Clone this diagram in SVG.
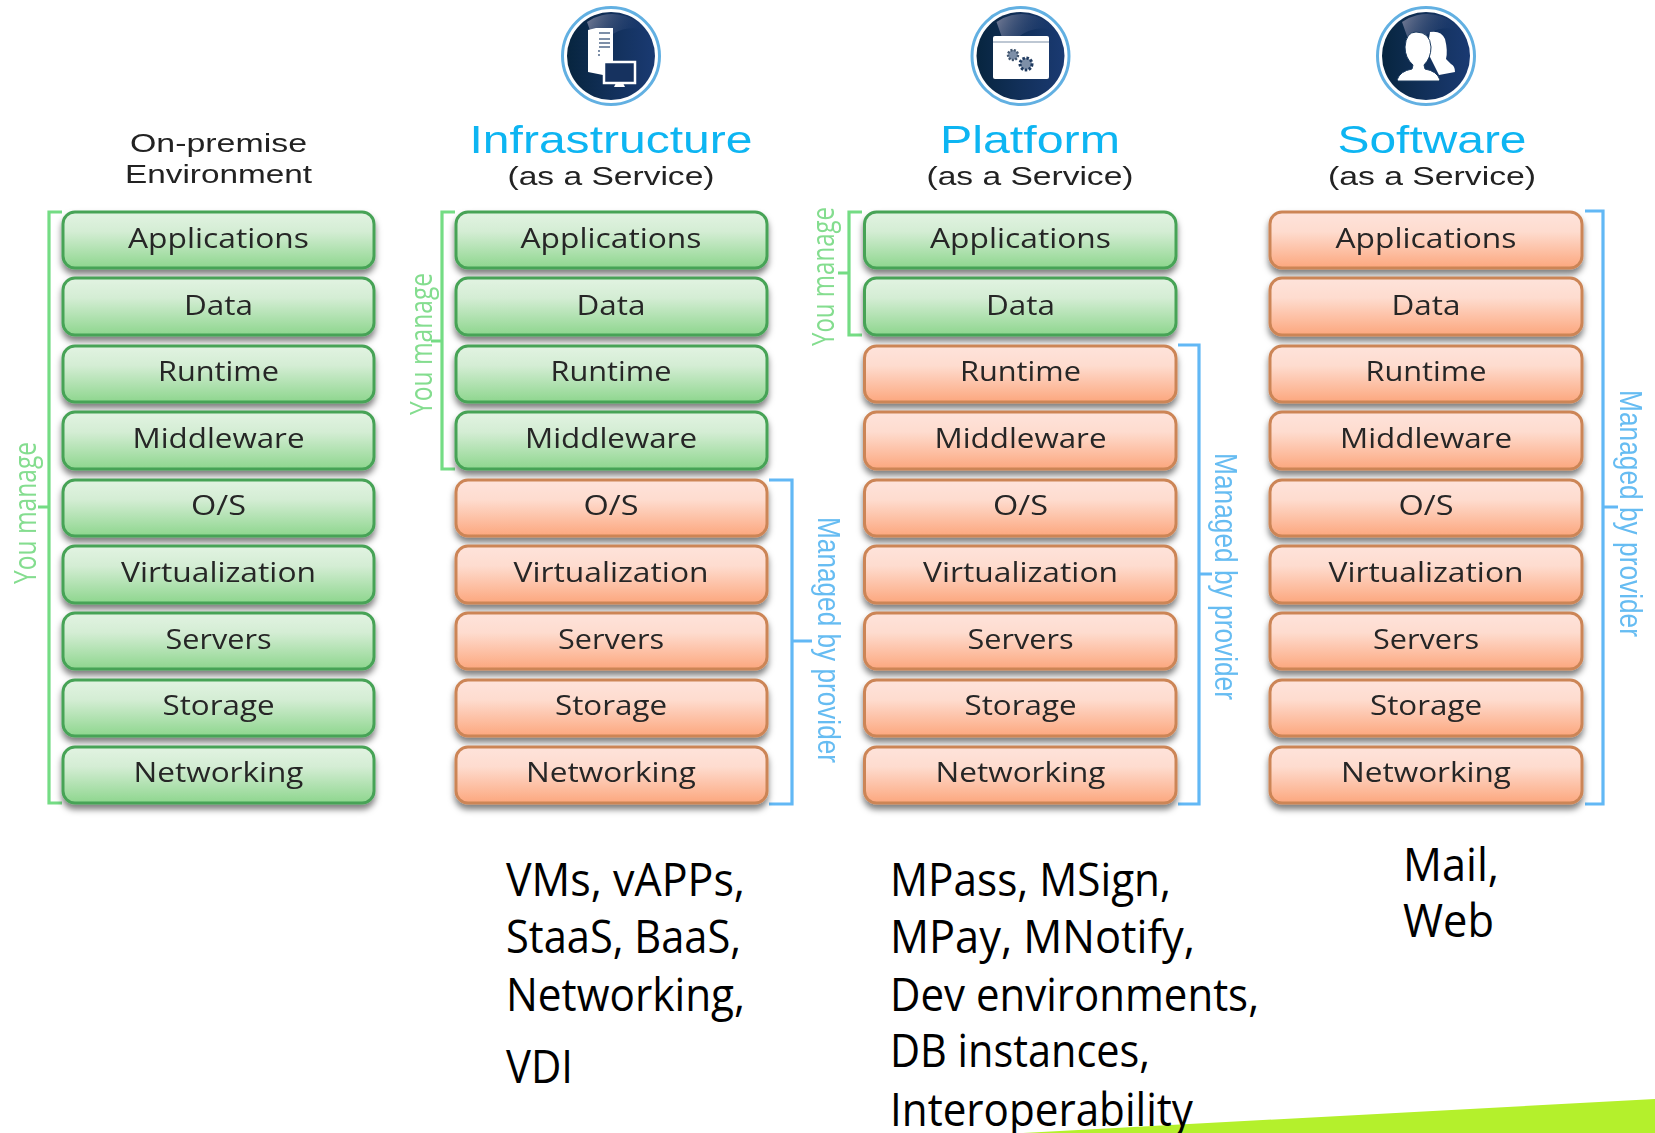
<svg xmlns="http://www.w3.org/2000/svg" xmlns:xlink="http://www.w3.org/1999/xlink" width="1655" height="1133" viewBox="0 0 1655 1133">
<defs>
<linearGradient id="gG" x1="0" y1="0" x2="0" y2="1"><stop offset="0" stop-color="#e2f3e2"/><stop offset="0.35" stop-color="#d4edd4"/><stop offset="1" stop-color="#8ed68e"/></linearGradient>
<linearGradient id="gO" x1="0" y1="0" x2="0" y2="1"><stop offset="0" stop-color="#fee3db"/><stop offset="0.35" stop-color="#fedccf"/><stop offset="1" stop-color="#fca77e"/></linearGradient>
<linearGradient id="gI" x1="0" y1="0" x2="1" y2="0"><stop offset="0" stop-color="#07253f"/><stop offset="0.5" stop-color="#12305a"/><stop offset="1" stop-color="#1a3a72"/></linearGradient>
<linearGradient id="gS" x1="0" y1="0" x2="1" y2="0.3"><stop offset="0" stop-color="#8a8da5" stop-opacity="0.85"/><stop offset="1" stop-color="#1a3a72" stop-opacity="0"/></linearGradient>
<filter id="sh" x="-5%" y="-20%" width="110%" height="150%"><feDropShadow dx="0" dy="5" stdDeviation="3" flood-color="#000" flood-opacity="0.5"/></filter>
<filter id="soft" x="-5%" y="-5%" width="110%" height="110%"><feGaussianBlur stdDeviation="0.5"/></filter>
<g id="icon"><circle r="48.5" fill="#fff" stroke="#62b0e2" stroke-width="3"/><circle r="44" fill="url(#gI)"/><path d="M-24-34 A44 44 0 0 1 35-26 Q5-34-14-6Z" fill="url(#gS)"/></g>
</defs>
<style>
text{font-family:"Open Sans","Noto Sans",sans-serif}
.box{stroke-width:3;filter:url(#sh)}
.g rect{fill:url(#gG);stroke:#47a357}
.o rect{fill:url(#gO);stroke:#cc8557}
.lab{font-size:28px;fill:#262626;text-anchor:middle;filter:url(#soft)}
.hd{font-family:"Liberation Sans",Arial,sans-serif;font-size:26px;fill:#222;text-anchor:middle;filter:url(#soft)}
.ti{font-family:"Liberation Sans",Arial,sans-serif;font-size:38px;fill:#11b5f2;text-anchor:middle;filter:url(#soft)}
.yg{font-size:31px;fill:#84dd8f;filter:url(#soft)}
.pb{font-family:"Liberation Sans",Arial,sans-serif;font-size:31px;fill:#66bcf2;filter:url(#soft)}
.br{fill:none;stroke-width:3.2}
.bg{stroke:#74dc84}
.bb{stroke:#62b8f5}
.ex{font-size:45px;fill:#000}
</style>
<polygon id="swoosh" points="1023,1133 1655,1099 1655,1133" fill="#b4f02c"/>
<g id="connectors">
<path class="br bg" d="M62 212H49V803H62M49 507H38"/>
<path class="br bg" d="M455 212H442V469H455M442 341H431"/>
<path class="br bg" d="M862 212H849V335H862M849 273H838"/>
<path class="br bb" d="M769 480H792V804H769M792 641H812"/>
<path class="br bb" d="M1178 345H1199V804H1178M1199 574H1212"/>
<path class="br bb" d="M1585 211H1603V804H1585M1603 507H1618"/>
</g>
<g id="on-premise">
<text class="hd" x="218.5" y="152" textLength="177" lengthAdjust="spacingAndGlyphs">On-premise</text>
<text class="hd" x="218.5" y="183" textLength="187" lengthAdjust="spacingAndGlyphs">Environment</text>
<g class="g">
<rect class="box" x="63" y="212" width="311" height="56" rx="12"/><text class="lab" x="218.5" y="248" textLength="181" lengthAdjust="spacingAndGlyphs">Applications</text>
<rect class="box" x="63" y="278" width="311" height="57" rx="12"/><text class="lab" x="218.5" y="315" textLength="69" lengthAdjust="spacingAndGlyphs">Data</text>
<rect class="box" x="63" y="346" width="311" height="56" rx="12"/><text class="lab" x="218.5" y="381" textLength="121" lengthAdjust="spacingAndGlyphs">Runtime</text>
<rect class="box" x="63" y="412" width="311" height="57" rx="12"/><text class="lab" x="218.5" y="448" textLength="172" lengthAdjust="spacingAndGlyphs">Middleware</text>
<rect class="box" x="63" y="480" width="311" height="56" rx="12"/><text class="lab" x="218.5" y="515" textLength="55" lengthAdjust="spacingAndGlyphs">O/S</text>
<rect class="box" x="63" y="546" width="311" height="57" rx="12"/><text class="lab" x="218.5" y="582" textLength="195" lengthAdjust="spacingAndGlyphs">Virtualization</text>
<rect class="box" x="63" y="613" width="311" height="56" rx="12"/><text class="lab" x="218.5" y="649" textLength="106" lengthAdjust="spacingAndGlyphs">Servers</text>
<rect class="box" x="63" y="680" width="311" height="56" rx="12"/><text class="lab" x="218.5" y="715" textLength="112" lengthAdjust="spacingAndGlyphs">Storage</text>
<rect class="box" x="63" y="747" width="311" height="56" rx="12"/><text class="lab" x="218.5" y="782" textLength="170" lengthAdjust="spacingAndGlyphs">Networking</text>
</g>
<text class="yg" transform="translate(36,584) rotate(-90)" textLength="142" lengthAdjust="spacingAndGlyphs">You manage</text>
</g>
<g id="infrastructure">
<use href="#icon" x="611" y="56"/>
<path d="M588 30 L596 28 H613 V61 H603 V75 L588 72Z" fill="#fff"/>
<path d="M599 33H610M599 39H610M599 43H610M599 47H610M598 51h2M598 55h2" stroke="#7d8fa8" stroke-width="1.8" fill="none"/>
<rect x="604" y="62" width="31" height="21" fill="#16325f" stroke="#fff" stroke-width="2.5"/><path d="M616 83h7l2 4h-11z" fill="#fff"/>
<text class="ti" x="611" y="153" textLength="283" lengthAdjust="spacingAndGlyphs">Infrastructure</text>
<text class="hd" x="611" y="185" textLength="207" lengthAdjust="spacingAndGlyphs">(as a Service)</text>
<g class="g">
<rect class="box" x="456" y="212" width="311" height="56" rx="12"/><text class="lab" x="611" y="248" textLength="181" lengthAdjust="spacingAndGlyphs">Applications</text>
<rect class="box" x="456" y="278" width="311" height="57" rx="12"/><text class="lab" x="611" y="315" textLength="69" lengthAdjust="spacingAndGlyphs">Data</text>
<rect class="box" x="456" y="346" width="311" height="56" rx="12"/><text class="lab" x="611" y="381" textLength="121" lengthAdjust="spacingAndGlyphs">Runtime</text>
<rect class="box" x="456" y="412" width="311" height="57" rx="12"/><text class="lab" x="611" y="448" textLength="172" lengthAdjust="spacingAndGlyphs">Middleware</text>
</g>
<g class="o">
<rect class="box" x="456" y="480" width="311" height="56" rx="12"/><text class="lab" x="611" y="515" textLength="55" lengthAdjust="spacingAndGlyphs">O/S</text>
<rect class="box" x="456" y="546" width="311" height="57" rx="12"/><text class="lab" x="611" y="582" textLength="195" lengthAdjust="spacingAndGlyphs">Virtualization</text>
<rect class="box" x="456" y="613" width="311" height="56" rx="12"/><text class="lab" x="611" y="649" textLength="106" lengthAdjust="spacingAndGlyphs">Servers</text>
<rect class="box" x="456" y="680" width="311" height="56" rx="12"/><text class="lab" x="611" y="715" textLength="112" lengthAdjust="spacingAndGlyphs">Storage</text>
<rect class="box" x="456" y="747" width="311" height="56" rx="12"/><text class="lab" x="611" y="782" textLength="170" lengthAdjust="spacingAndGlyphs">Networking</text>
</g>
<text class="yg" transform="translate(432,415) rotate(-90)" textLength="142" lengthAdjust="spacingAndGlyphs">You manage</text>
<text class="pb" transform="translate(818,517) rotate(90)" textLength="246" lengthAdjust="spacingAndGlyphs">Managed by provider</text>
<text class="ex" x="506" y="896" textLength="239" lengthAdjust="spacingAndGlyphs">VMs, vAPPs,</text>
<text class="ex" x="506" y="953" textLength="235" lengthAdjust="spacingAndGlyphs">StaaS, BaaS,</text>
<text class="ex" x="506" y="1011" textLength="239" lengthAdjust="spacingAndGlyphs">Networking,</text>
<text class="ex" x="506" y="1083" textLength="67" lengthAdjust="spacingAndGlyphs">VDI</text>
</g>
<g id="platform">
<use href="#icon" x="1020.5" y="56"/>
<rect x="993" y="36" width="56" height="43" rx="2" fill="#fff"/><path d="M993 42H1049" stroke="#7d8fa8" stroke-width="1.2"/>
<circle cx="1013" cy="55" r="5" fill="#7d8fa8" stroke="#42566f" stroke-width="2.4" stroke-dasharray="2 1.4"/>
<circle cx="1026" cy="64" r="6" fill="#7d8fa8" stroke="#1f3a5f" stroke-width="3" stroke-dasharray="2.4 1.6"/>
<text class="ti" x="1030" y="153" textLength="180" lengthAdjust="spacingAndGlyphs">Platform</text>
<text class="hd" x="1030" y="185" textLength="207" lengthAdjust="spacingAndGlyphs">(as a Service)</text>
<g class="g">
<rect class="box" x="864.5" y="212" width="311.5" height="56" rx="12"/><text class="lab" x="1020.5" y="248" textLength="181" lengthAdjust="spacingAndGlyphs">Applications</text>
<rect class="box" x="864.5" y="278" width="311.5" height="57" rx="12"/><text class="lab" x="1020.5" y="315" textLength="69" lengthAdjust="spacingAndGlyphs">Data</text>
</g>
<g class="o">
<rect class="box" x="864.5" y="346" width="311.5" height="56" rx="12"/><text class="lab" x="1020.5" y="381" textLength="121" lengthAdjust="spacingAndGlyphs">Runtime</text>
<rect class="box" x="864.5" y="412" width="311.5" height="57" rx="12"/><text class="lab" x="1020.5" y="448" textLength="172" lengthAdjust="spacingAndGlyphs">Middleware</text>
<rect class="box" x="864.5" y="480" width="311.5" height="56" rx="12"/><text class="lab" x="1020.5" y="515" textLength="55" lengthAdjust="spacingAndGlyphs">O/S</text>
<rect class="box" x="864.5" y="546" width="311.5" height="57" rx="12"/><text class="lab" x="1020.5" y="582" textLength="195" lengthAdjust="spacingAndGlyphs">Virtualization</text>
<rect class="box" x="864.5" y="613" width="311.5" height="56" rx="12"/><text class="lab" x="1020.5" y="649" textLength="106" lengthAdjust="spacingAndGlyphs">Servers</text>
<rect class="box" x="864.5" y="680" width="311.5" height="56" rx="12"/><text class="lab" x="1020.5" y="715" textLength="112" lengthAdjust="spacingAndGlyphs">Storage</text>
<rect class="box" x="864.5" y="747" width="311.5" height="56" rx="12"/><text class="lab" x="1020.5" y="782" textLength="170" lengthAdjust="spacingAndGlyphs">Networking</text>
</g>
<text class="yg" transform="translate(834,346) rotate(-90)" textLength="139" lengthAdjust="spacingAndGlyphs">You manage</text>
<text class="pb" transform="translate(1215,453) rotate(90)" textLength="247" lengthAdjust="spacingAndGlyphs">Managed by provider</text>
<text class="ex" x="890" y="896" textLength="281" lengthAdjust="spacingAndGlyphs">MPass, MSign,</text>
<text class="ex" x="890" y="953" textLength="305" lengthAdjust="spacingAndGlyphs">MPay, MNotify,</text>
<text class="ex" x="890" y="1011" textLength="369" lengthAdjust="spacingAndGlyphs">Dev environments,</text>
<text class="ex" x="890" y="1067" textLength="260" lengthAdjust="spacingAndGlyphs">DB instances,</text>
<text class="ex" x="890" y="1126" textLength="303" lengthAdjust="spacingAndGlyphs">Interoperability</text>
</g>
<g id="software">
<use href="#icon" x="1426" y="56"/>
<path d="M1430 32 q11-2 15 7 q3 12 1 20 l5 5 q4 2 4 8 l-16 3 l-12-24z" fill="#fff"/>
<path d="M1416 32 q14 0 15 15 q0 11-7 18 l1 4 q12 2 15 11 l-1 1 h-41 l-1-1 q3-9 15-11 l1-4 q-8-7-8-18 q1-15 11-15z" fill="#fff" stroke="#1a3a5f" stroke-width="1"/>
<text class="ti" x="1432" y="153" textLength="189" lengthAdjust="spacingAndGlyphs">Software</text>
<text class="hd" x="1432" y="185" textLength="208" lengthAdjust="spacingAndGlyphs">(as a Service)</text>
<g class="o">
<rect class="box" x="1270" y="212" width="312" height="56" rx="12"/><text class="lab" x="1426" y="248" textLength="181" lengthAdjust="spacingAndGlyphs">Applications</text>
<rect class="box" x="1270" y="278" width="312" height="57" rx="12"/><text class="lab" x="1426" y="315" textLength="69" lengthAdjust="spacingAndGlyphs">Data</text>
<rect class="box" x="1270" y="346" width="312" height="56" rx="12"/><text class="lab" x="1426" y="381" textLength="121" lengthAdjust="spacingAndGlyphs">Runtime</text>
<rect class="box" x="1270" y="412" width="312" height="57" rx="12"/><text class="lab" x="1426" y="448" textLength="172" lengthAdjust="spacingAndGlyphs">Middleware</text>
<rect class="box" x="1270" y="480" width="312" height="56" rx="12"/><text class="lab" x="1426" y="515" textLength="55" lengthAdjust="spacingAndGlyphs">O/S</text>
<rect class="box" x="1270" y="546" width="312" height="57" rx="12"/><text class="lab" x="1426" y="582" textLength="195" lengthAdjust="spacingAndGlyphs">Virtualization</text>
<rect class="box" x="1270" y="613" width="312" height="56" rx="12"/><text class="lab" x="1426" y="649" textLength="106" lengthAdjust="spacingAndGlyphs">Servers</text>
<rect class="box" x="1270" y="680" width="312" height="56" rx="12"/><text class="lab" x="1426" y="715" textLength="112" lengthAdjust="spacingAndGlyphs">Storage</text>
<rect class="box" x="1270" y="747" width="312" height="56" rx="12"/><text class="lab" x="1426" y="782" textLength="170" lengthAdjust="spacingAndGlyphs">Networking</text>
</g>
<text class="pb" transform="translate(1620,390) rotate(90)" textLength="247" lengthAdjust="spacingAndGlyphs">Managed by provider</text>
<text class="ex" x="1403" y="881" textLength="96" lengthAdjust="spacingAndGlyphs">Mail,</text>
<text class="ex" x="1403" y="937" textLength="91" lengthAdjust="spacingAndGlyphs">Web</text>
</g>
</svg>
